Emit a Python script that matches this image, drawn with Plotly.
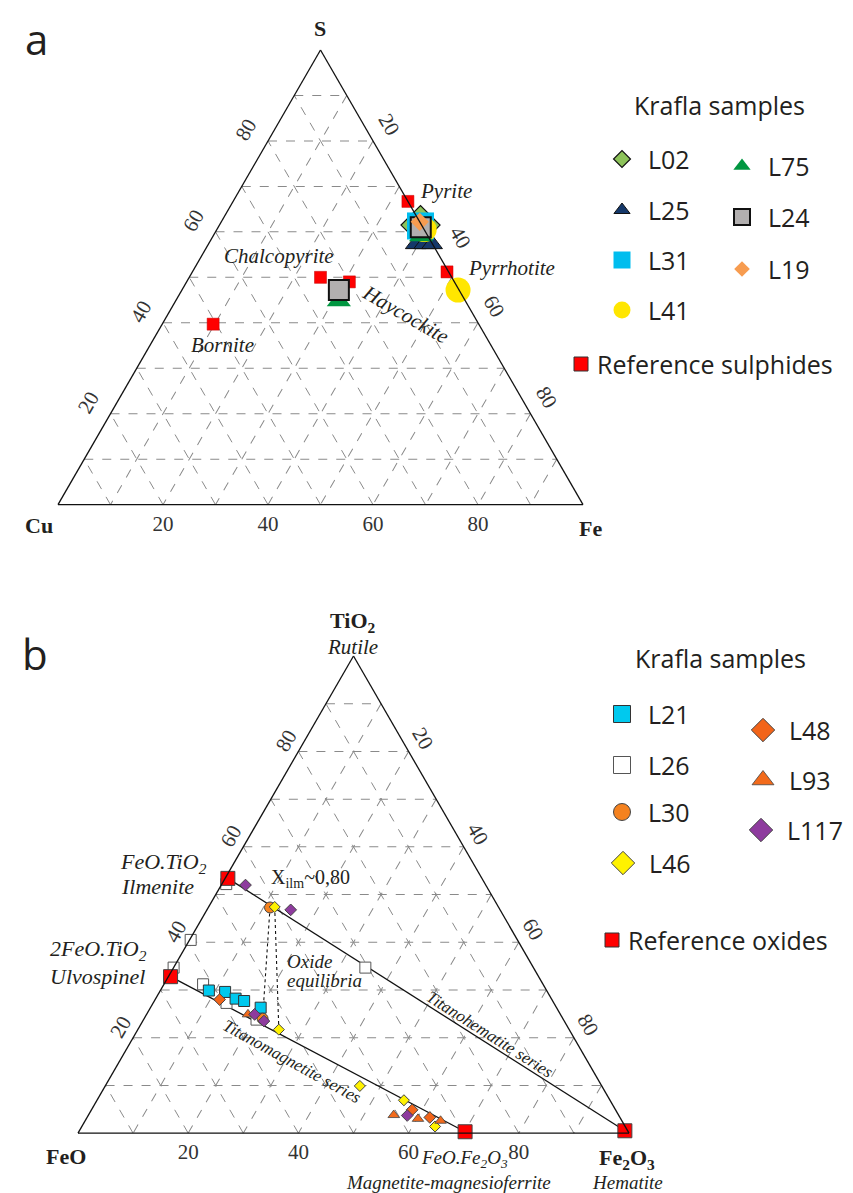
import math
import plotly.graph_objects as go

W, H = 853, 1193
TXT = "#231F20"
SERIF = "Liberation Serif"
SANS = "Open Sans"

# ---------------- panel a : Cu - Fe - S ----------------
# reference sulphides, S / Cu / Fe
ref_sulph_names = ["Pyrite", "Pyrrhotite", "Chalcopyrite", "Haycockite", "Bornite"]
ref_S = [66.7, 51.2, 50.0, 49.0, 39.7]
ref_Cu = [0.0, 0.3, 25.0, 20.0, 50.6]
ref_Fe = [33.3, 48.5, 25.0, 31.0, 9.7]

# Krafla sulphide samples, each: [S], [Cu], [Fe]
L02 = [[61.5], [0.2], [38.3]]
L25 = [[57.3, 57.3, 57.3], [3.2, 1.6, 0.1], [39.5, 41.1, 42.6]]
L31 = [[61.3], [0.3], [38.4]]
L41 = [[60.5, 47.2], [0.0, 0.2], [39.5, 52.6]]
L75 = [[59.1, 44.8], [1.3, 24.1], [39.6, 31.1]]
L24 = [[61.0, 47.2], [0.4, 22.9], [38.6, 29.9]]
L19 = [[62.2], [0.0], [37.8]]

# ---------------- panel b : FeO - Fe2O3 - TiO2 ----------------
# reference oxides, TiO2 / FeO / Fe2O3
ref_ox_names = ["Ilmenite", "Ulvospinel", "Magnetite", "Hematite"]
ox_TiO2 = [53.4, 32.8, 0.3, 0.5]
ox_FeO = [46.1, 66.8, 29.6, 0.5]
ox_Fe2O3 = [0.5, 0.4, 70.1, 99.0]

# Krafla oxide samples, each: [TiO2], [FeO], [Fe2O3]
L21 = [[29.9, 29.6, 28.2, 27.7, 26.3],
       [61.3, 58.5, 57.3, 56.0, 53.7],
       [8.8, 11.9, 14.5, 16.3, 20.0]]
L26 = [[52.2, 40.5, 34.7, 31.2, 27.3, 23.8, 34.7],
       [47.0, 59.3, 65.3, 61.7, 59.4, 55.7, 30.5],
       [0.8, 0.2, 0.0, 7.1, 13.3, 20.5, 34.8]]
L30 = [[47.3, 24.0], [41.5, 54.5], [11.2, 21.5]]
L46 = [[47.4, 21.7, 9.9, 6.9, 1.4],
       [40.6, 52.7, 43.9, 37.4, 34.5],
       [12.0, 25.6, 46.2, 55.7, 64.1]]
L48 = [[28.0, 4.9, 3.3], [60.3, 36.9, 34.5], [11.7, 58.2, 62.2]]
L93 = [[24.9, 3.8, 3.0, 2.6], [56.7, 40.8, 36.8, 32.9], [18.4, 55.4, 60.2, 64.5]]
L117 = [[52.0, 46.8, 24.9, 23.5, 3.7],
        [43.6, 38.0, 55.5, 54.5, 38.4],
        [4.4, 15.2, 19.6, 22.0, 57.9]]

# marker styles: symbol, fill, size on plot, size in legend, outline colour, outline width
sulph_style = {
    "L02": ("diamond", "#8DC35A", 30, 13, "#111111", 1.2),
    "L25": ("triangle-up", "#15386A", 18, 14, "#111111", 1.0),
    "L31": ("square", "#00BDEE", 27, 17, "#00BDEE", 0),
    "L41": ("circle", "#FFE600", 25, 17, "#FFE600", 0),
    "L75": ("triangle-up", "#009640", 21, 15, "#009640", 0),
    "L24": ("square", "#B2AFAF", 20, 16, "#111111", 2.0),
    "L19": ("diamond", "#F79C50", 14, 12, "#F79C50", 0),
}
oxide_style = {
    "L26": ("square", "#FFFFFF", 11, 17, "#555555", 1.0),
    "L21": ("square", "#00C9EE", 11, 17, "#333333", 1.0),
    "L30": ("circle", "#F5821F", 11, 17, "#444444", 1.0),
    "L46": ("diamond", "#FFF200", 8.5, 18, "#444444", 1.0),
    "L48": ("diamond", "#F26419", 9, 18, "#444444", 1.0),
    "L93": ("triangle-up", "#F26A1B", 10, 19, "#444444", 0.8),
    "L117": ("diamond", "#8E3B9E", 9, 18, "#444444", 1.0),
}
sulph_data = {"L02": L02, "L25": L25, "L31": L31, "L41": L41,
              "L75": L75, "L24": L24, "L19": L19}
oxide_data = {"L26": L26, "L21": L21, "L30": L30, "L46": L46,
              "L48": L48, "L93": L93, "L117": L117}

fig = go.Figure()


def tern_pts(name, pts, st, subplot):
    sym, col, size, _, lc, lw = st
    fig.add_trace(go.Scatterternary(
        a=pts[0], b=pts[1], c=pts[2], mode="markers", name=name, subplot=subplot,
        cliponaxis=False, showlegend=False,
        marker=dict(symbol=sym, color=col, size=size, line=dict(color=lc, width=lw))))


def tern_line(a, b, c, subplot, dash="solid", width=1.3):
    fig.add_trace(go.Scatterternary(
        a=a, b=b, c=c, mode="lines", subplot=subplot, showlegend=False,
        line=dict(color="#111111", width=width, dash=dash), hoverinfo="skip"))


# panel a traces: references first, samples on top
fig.add_trace(go.Scatterternary(
    a=ref_S, b=ref_Cu, c=ref_Fe, mode="markers", subplot="ternary", showlegend=False,
    text=ref_sulph_names, name="Reference sulphides", cliponaxis=False,
    marker=dict(symbol="square", color="#FF0000", size=12, line=dict(color="#C00000", width=0.5))))
for k in sulph_data:
    tern_pts(k, sulph_data[k], sulph_style[k], "ternary")

# panel b traces: series lines and tie lines, then samples, then references
tern_line([ox_TiO2[0], ox_TiO2[3]], [ox_FeO[0], ox_FeO[3]], [ox_Fe2O3[0], ox_Fe2O3[3]], "ternary2")
tern_line([ox_TiO2[1], ox_TiO2[2]], [ox_FeO[1], ox_FeO[2]], [ox_Fe2O3[1], ox_Fe2O3[2]], "ternary2")
for pts in (L30, L46):
    tern_line(pts[0][:2], pts[1][:2], pts[2][:2], "ternary2", dash="dot", width=1.1)
for k in oxide_data:
    tern_pts(k, oxide_data[k], oxide_style[k], "ternary2")
fig.add_trace(go.Scatterternary(
    a=ox_TiO2, b=ox_FeO, c=ox_Fe2O3, mode="markers", subplot="ternary2", showlegend=False,
    text=ref_ox_names, name="Reference oxides", cliponaxis=False,
    marker=dict(symbol="square", color="#FF0000", size=14, line=dict(color="#444444", width=1))))

# ---------------- hand-made legends on a hidden pixel axis ----------------
leg_a = [("L02", 614, 151), ("L25", 614, 202), ("L31", 614, 252), ("L41", 614, 302),
         ("L75", 734, 158), ("L24", 734, 209), ("L19", 734, 261)]
leg_b = [("L21", 614, 706), ("L26", 614, 757), ("L30", 614, 804), ("L46", 615, 855),
         ("L48", 755, 722), ("L93", 755, 772), ("L117", 753, 822)]

annotations = []


def note(x, y, text, size=21, font=SERIF, angle=0, xanchor="center", color=TXT):
    annotations.append(dict(x=x, y=y, xref="x", yref="y", text=text, showarrow=False,
                            textangle=angle, xanchor=xanchor, yanchor="middle",
                            font=dict(family=font, size=size, color=color)))


for items, styles in ((leg_a, sulph_style), (leg_b, oxide_style)):
    for name, x, y in items:
        sym, col, _, lsize, lc, lw = styles[name]
        fig.add_trace(go.Scatter(x=[x], y=[y], mode="markers", showlegend=False, hoverinfo="skip",
                                 marker=dict(symbol=sym, color=col, size=lsize,
                                             line=dict(color=lc, width=max(lw, 0.8) if lw else 0))))
        note(x + 24, y, name, size=25, font=SANS, xanchor="left")

for x, y, label in ((573, 356, "Reference sulphides"), (604, 932, "Reference oxides")):
    fig.add_trace(go.Scatter(x=[x], y=[y], mode="markers", showlegend=False, hoverinfo="skip",
                             marker=dict(symbol="square", color="#FF0000", size=14,
                                         line=dict(color="#333333", width=1))))
    note(x + 14, y, label, size=25, font=SANS, xanchor="left")

note(711, 97, "Krafla samples", size=25, font=SANS)
note(712, 650, "Krafla samples", size=25, font=SANS)

# panel letters
note(28, 30, "a", size=42, font=SANS)
note(27, 645, "b", size=42, font=SANS)

# panel a labels
note(312, 20, "<b>S</b>", size=22)
note(31, 517, "<b>Cu</b>", size=22)
note(582, 520, "<b>Fe</b>", size=22)
note(410, 183, "<i>Pyrite</i>", xanchor="left")
note(458, 260, "<i>Pyrrhotite</i>", xanchor="left")
note(328, 248, "<i>Chalcopyrite</i>", xanchor="right")
note(397, 306, "<i>Haycockite</i>", angle=30)
note(214, 337, "<i>Bornite</i>")
# the Fe "40" label is pushed clear of the pyrite cluster, as in the original
note(452, 229, "40", size=21, angle=60, color="#333333")

# panel b labels
note(345, 614, "<b>TiO<sub>2</sub></b>", size=22)
note(344, 639, "<i>Rutile</i>", size=21)
note(58, 1148, "<b>FeO</b>", size=22)
note(619, 1151, "<b>Fe<sub>2</sub>O<sub>3</sub></b>", size=22)
note(619, 1174, "<i>Hematite</i>", size=19)
note(456, 1151, "<i>FeO.Fe<sub>2</sub>O<sub>3</sub></i>", size=19)
note(440, 1174, "<i>Magnetite-magnesioferrite</i>", size=19)
note(110, 855, "<i>FeO.TiO<sub>2</sub></i>", size=22, xanchor="left")
note(111, 878, "<i>Ilmenite</i>", size=22, xanchor="left")
note(40, 942, "<i>2FeO.TiO<sub>2</sub></i>", size=22, xanchor="left")
note(40, 968, "<i>Ulvospinel</i>", size=22, xanchor="left")
note(302, 870, "X<sub>ilm</sub>~0,80", size=20)
note(277, 953, "<i>Oxide</i>", size=19, xanchor="left")
note(277, 972, "<i>equilibria</i>", size=19, xanchor="left")
note(284, 1053, "<i>Titanomagnetite series</i>", size=17, angle=29)
note(482, 1026, "<i>Titanohematite series</i>", size=17, angle=32.5)

# ---------------- ternary axes ----------------
grid_vals = [10, 20, 30, 40, 50, 60, 70, 80, 90]
grid_text = ["", "20", "", "40", "", "60", "", "80", ""]
grid_text_rev = ["", "80", "", "60", "", "40", "", "20", ""]
grid_text_no40 = ["", "20", "", "", "", "60", "", "80", ""]


def tern_axis(text, angle, pad):
    return dict(tickmode="array", tickvals=grid_vals, ticktext=text, tickangle=angle,
                ticks="outside" if pad else "", ticklen=pad, tickcolor="rgba(0,0,0,0)",
                showline=True, linecolor="#111111", linewidth=1.3,
                showgrid=True, gridcolor="#8A8A8A", gridwidth=1, griddash="dash",
                tickfont=dict(family=SERIF, size=21, color="#333333"), title=dict(text=""),
                min=0)


def domain(x0, x1, ytop, side):
    h = side * math.sqrt(3) / 2
    return dict(x=[x0 / W, x1 / W], y=[1 - (ytop + h) / H, 1 - ytop / H])


fig.update_layout(
    width=W, height=H, margin=dict(l=0, r=0, t=0, b=0),
    paper_bgcolor="white", plot_bgcolor="rgba(0,0,0,0)", showlegend=False,
    xaxis=dict(range=[0, W], visible=False, fixedrange=True, domain=[0, 1]),
    yaxis=dict(range=[H, 0], visible=False, fixedrange=True, domain=[0, 1]),
    ternary=dict(sum=100, bgcolor="white", domain=domain(50, 575, 42, 525),
                 aaxis=tern_axis(grid_text, -60, 9), baxis=tern_axis(grid_text_rev, 0, 0),
                 caxis=tern_axis(grid_text_no40, 60, 6)),
    ternary2=dict(sum=100, bgcolor="white", domain=domain(70, 621, 648, 551),
                  aaxis=tern_axis(grid_text, -60, 0), baxis=tern_axis(grid_text_rev, 0, 0),
                  caxis=tern_axis(grid_text, 60, 2)),
    annotations=annotations,
)

fig.write_html("out.html")
